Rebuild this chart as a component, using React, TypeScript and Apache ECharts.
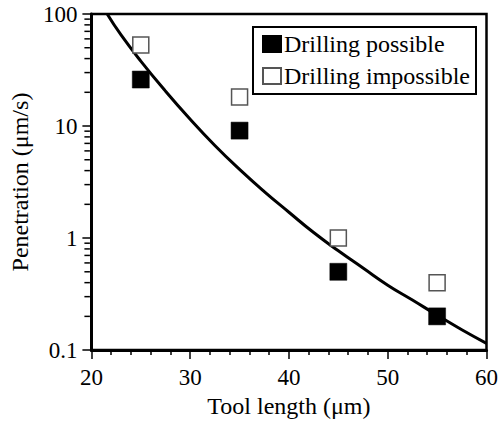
import React, { useEffect, useRef } from "react";
import * as echarts from "echarts";

const toolLength = [25, 35, 45, 55];
const possibleValues = [26, 9.1, 0.5, 0.2];
const impossibleValues = [53, 18.2, 1.0, 0.4];
const curveX = [21.6, 23, 25, 27.5, 30, 32.5, 35, 37.5, 40, 42.5, 45, 47.5, 50, 52.5, 55, 57.5, 60];
const curveY = [100, 65, 38, 20.5, 11.5, 6.7, 4.1, 2.6, 1.7, 1.12, 0.77, 0.54, 0.38, 0.28, 0.205, 0.152, 0.115];
const yMinorTicks = [
  0.2, 0.3, 0.4, 0.5, 0.6, 0.7, 0.8, 0.9,
  2, 3, 4, 5, 6, 7, 8, 9,
  20, 30, 40, 50, 60, 70, 80, 90,
];

const FONT = "Liberation Serif";

export default function App() {
  const ref = useRef<HTMLDivElement>(null);
  useEffect(() => {
    if (!ref.current) return;
    const chart = echarts.init(ref.current, null, { renderer: "svg" });
    chart.setOption({
      animation: false,
      backgroundColor: "#fff",
      textStyle: { fontFamily: FONT },
      grid: {
        left: 73,
        right: 12,
        top: 14,
        bottom: 69,
        show: true,
        borderColor: "#000",
        borderWidth: 2.5,
      },
      legend: {
        orient: "vertical",
        left: 253,
        top: 27,
        data: ["Drilling possible", "Drilling impossible"],
        borderColor: "#000",
        borderWidth: 2,
        padding: [5, 6, 6, 9],
        itemGap: 8,
        itemWidth: 18,
        itemHeight: 16,
        textStyle: { fontFamily: FONT, fontSize: 24, color: "#000", padding: [0, 0, 0, -2] },
      },
      xAxis: {
        type: "value",
        min: 20,
        max: 60,
        interval: 10,
        splitLine: { show: false },
        axisLine: { show: true, lineStyle: { color: "#000", width: 3 } },
        axisTick: { show: true, inside: false, length: 9, lineStyle: { color: "#000", width: 1.5 } },
        minorTick: { show: true, splitNumber: 5, length: 5, lineStyle: { color: "#000", width: 1.5 } },
        axisLabel: { fontFamily: FONT, fontSize: 23, color: "#000", margin: 16 },
        name: "Tool length (μm)",
        nameLocation: "middle",
        nameGap: 42,
        nameTextStyle: { fontFamily: FONT, fontSize: 24, color: "#000" },
      },
      yAxis: {
        type: "log",
        logBase: 10,
        min: 0.1,
        max: 100,
        splitLine: { show: false },
        axisLine: { show: true, lineStyle: { color: "#000", width: 3 } },
        axisTick: { show: true, inside: false, length: 9, lineStyle: { color: "#000", width: 1.5 } },
        minorTick: { show: false },
        axisLabel: { fontFamily: FONT, fontSize: 23, color: "#000", margin: 14 },
        name: "Penetration (μm/s)",
        nameLocation: "middle",
        nameGap: 44,
        nameTextStyle: { fontFamily: FONT, fontSize: 24, color: "#000" },
      },
      series: [
        {
          type: "custom",
          name: "minorTicks",
          coordinateSystem: "cartesian2d",
          clip: false,
          silent: true,
          data: yMinorTicks.map((v) => [20, v]),
          renderItem: (params: any, api: any) => {
            const p = api.coord([api.value(0), api.value(1)]);
            return {
              type: "line",
              shape: { x1: p[0] - 1.5, y1: p[1], x2: p[0] - 7, y2: p[1] },
              style: { stroke: "#000", lineWidth: 1.5 },
            };
          },
        },
        {
          type: "line",
          name: "fit",
          data: curveX.map((x, i) => [x, curveY[i]]),
          smooth: true,
          showSymbol: false,
          symbol: "none",
          lineStyle: { color: "#000", width: 3 },
          z: 2,
        },
        {
          type: "scatter",
          name: "Drilling possible",
          data: toolLength.map((x, i) => [x, possibleValues[i]]),
          symbol: "rect",
          symbolSize: 17,
          itemStyle: { color: "#000", borderColor: "#000", borderWidth: 0.5, opacity: 1 },
          z: 3,
        },
        {
          type: "scatter",
          name: "Drilling impossible",
          data: toolLength.map((x, i) => [x, impossibleValues[i]]),
          symbol: "rect",
          symbolSize: 16,
          itemStyle: { color: "#fff", borderColor: "#555", borderWidth: 1.5, opacity: 1 },
          z: 3,
        },
      ],
    });
    return () => chart.dispose();
  }, []);
  return (
    <div
      ref={ref}
      style={{ position: "absolute", left: 0, top: 0, width: 501, height: 423 }}
    />
  );
}
